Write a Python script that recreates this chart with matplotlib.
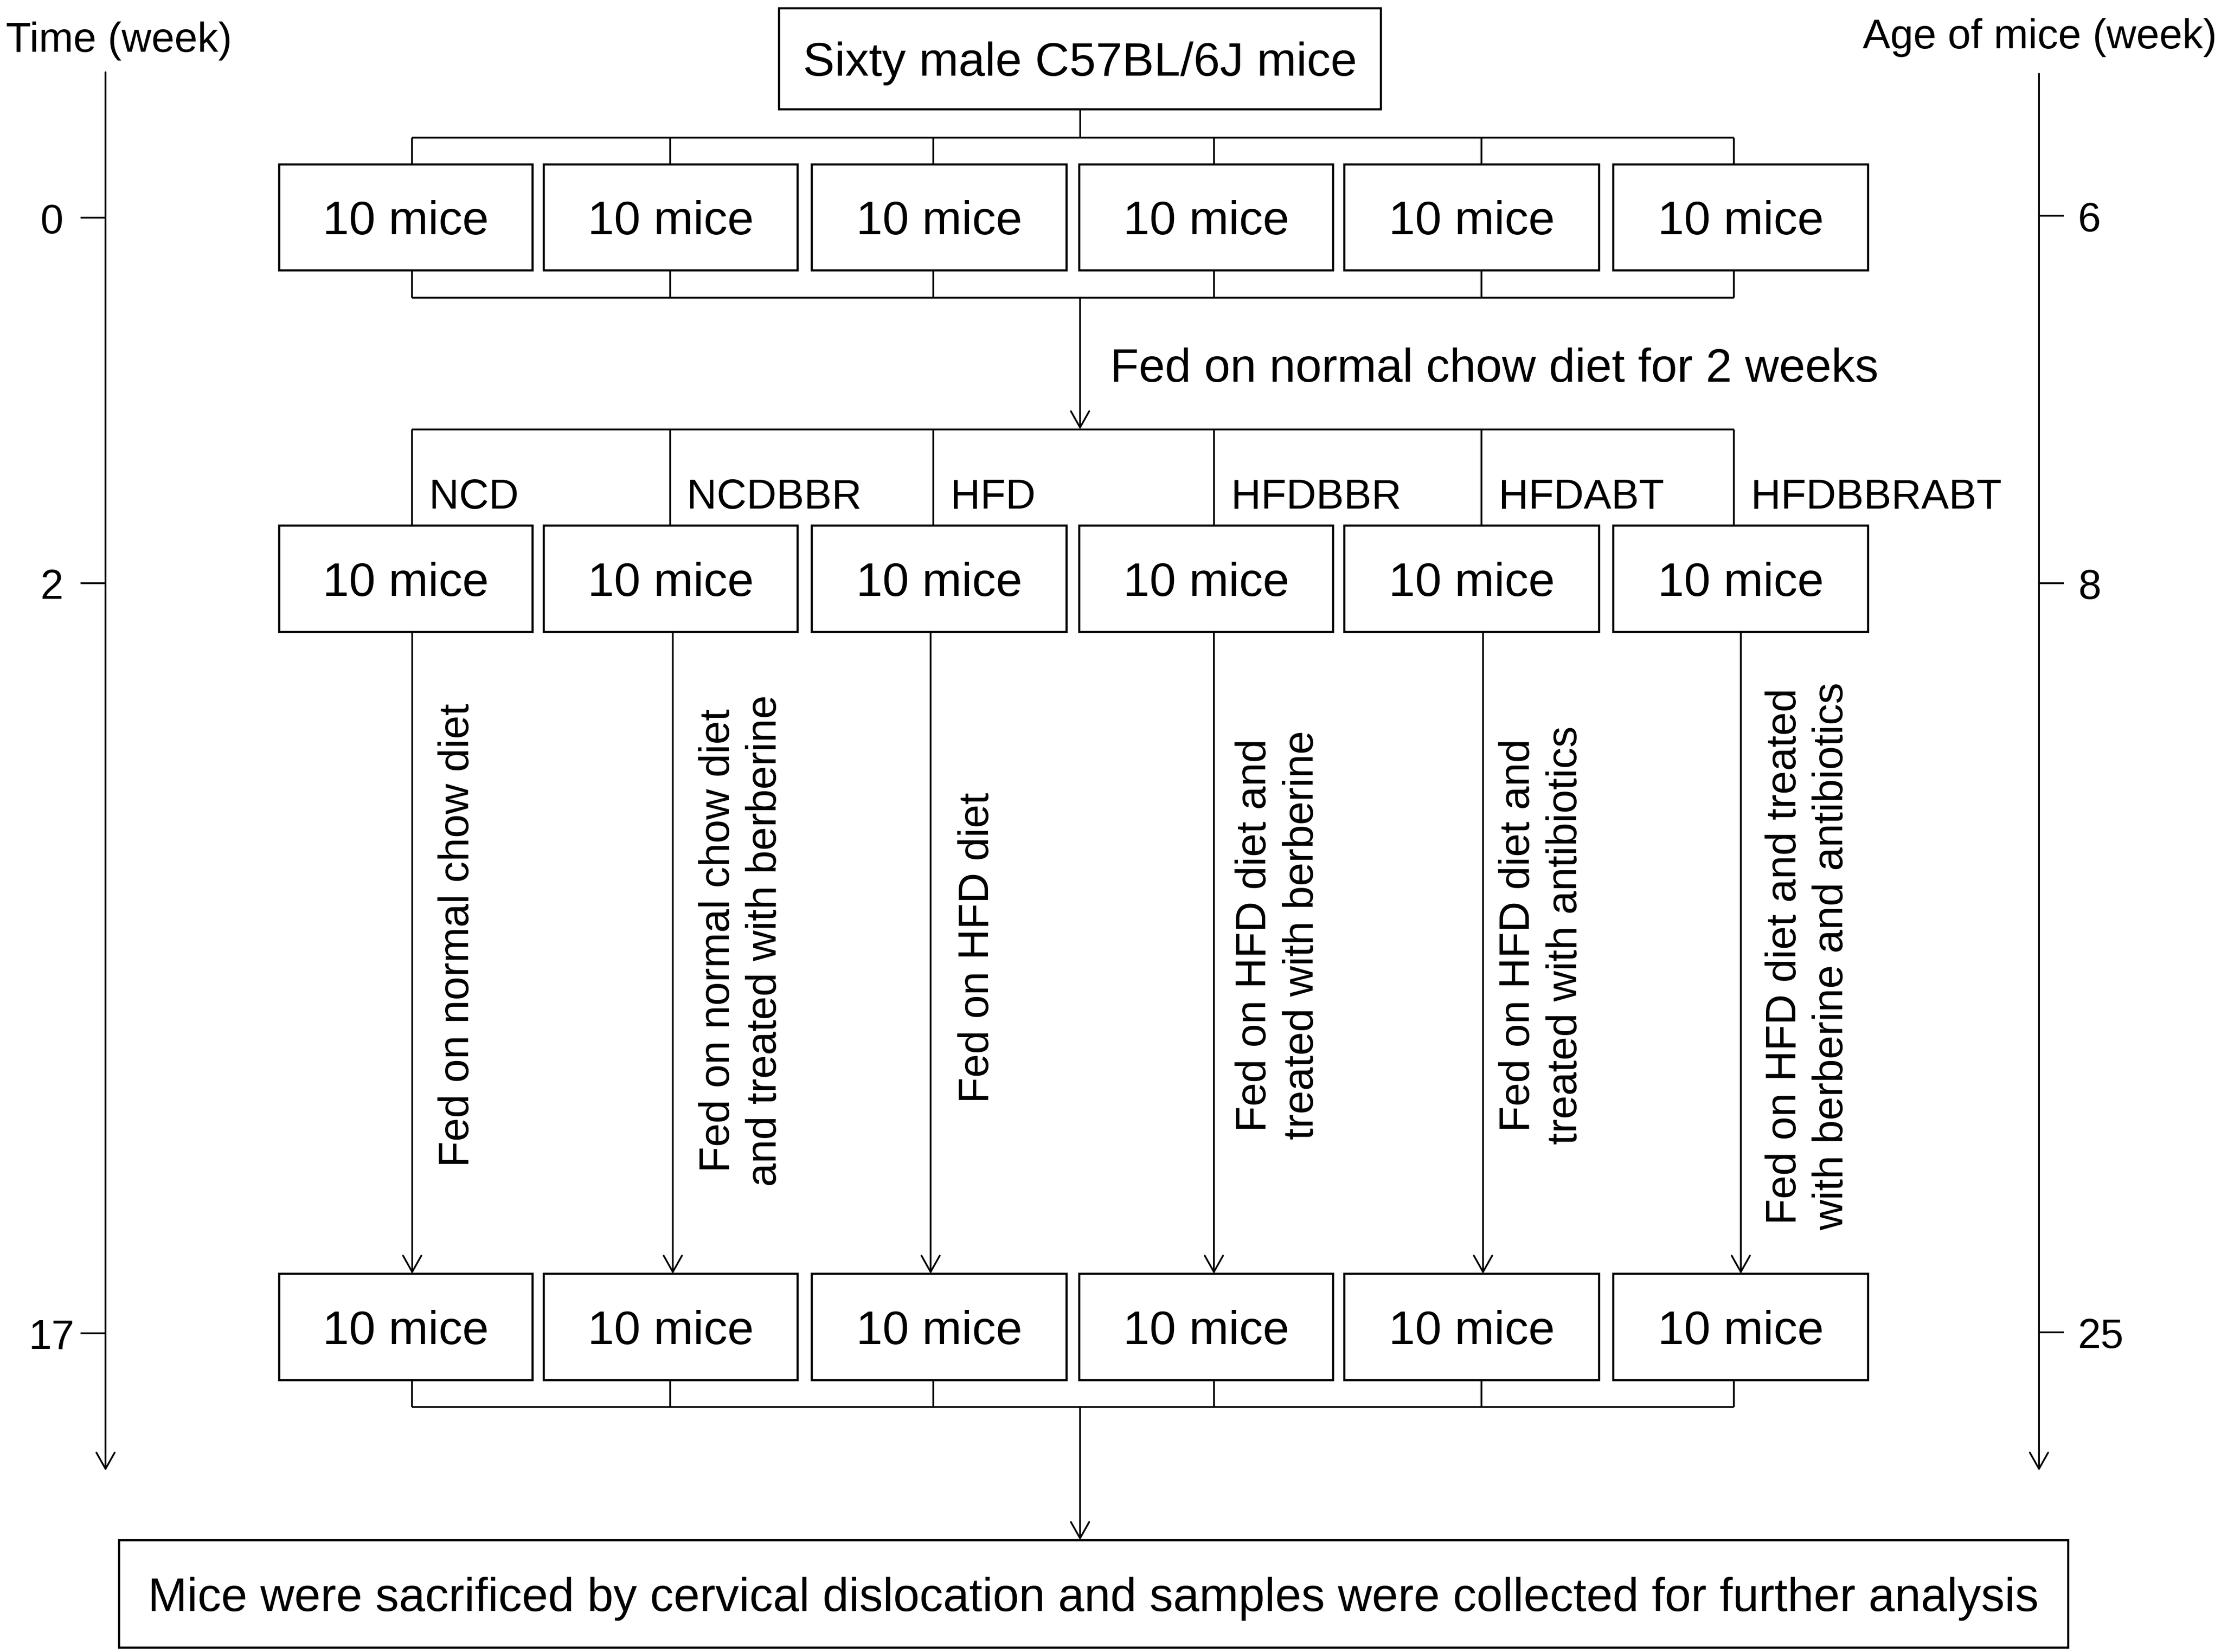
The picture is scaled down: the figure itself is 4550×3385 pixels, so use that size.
import matplotlib
matplotlib.use("Agg")
import matplotlib.pyplot as plt
from matplotlib.patches import Rectangle, FancyArrowPatch

plt.rcParams['font.family'] = ['Liberation Sans', 'DejaVu Sans']

# ---------------- data ----------------
title_text = "Sixty male C57BL/6J mice"
group_labels = ["NCD", "NCDBBR", "HFD", "HFDBBR", "HFDABT", "HFDBBRABT"]
mice_per_group = [10, 10, 10, 10, 10, 10]
treatments = [
    "Fed on normal chow diet",
    "Fed on normal chow diet\nand treated with berberine",
    "Fed on HFD diet",
    "Fed on HFD diet and\ntreated with berberine",
    "Fed on HFD diet and\ntreated with antibiotics",
    "Fed on HFD diet and treated\nwith berberine and antibiotics",
]
acclim_text = "Fed on normal chow diet for 2 weeks"
final_text = ("Mice were sacrificed by cervical dislocation and samples "
              "were collected for further analysis")
time_weeks = [0, 2, 17]
age_weeks = [6, 8, 25]
left_axis_title = "Time (week)"
right_axis_title = "Age of mice (week)"

# ---------------- layout (canvas units) ----------------
W, H = 1568, 1166
box_l = [197, 384, 573, 762, 949, 1139]
box_r = [376, 563, 753, 941, 1129, 1319]
branch_x = [291, 473, 659, 857, 1046, 1224]
arrow_x = [291, 475, 657, 857, 1047, 1229]
text_left = [309, 493, 676, 872, 1058, 1246]
text_yc = [660, 664, 669, 660, 660, 675]
row_top = [116, 371, 899]
row_bot = [191, 446, 974]
tick_y_left = [153.7, 411.5, 941]
tick_y_right = [152.4, 411.5, 940.5]
BOX_LW = 3.2
LINE_LW = 2.6
BIG = 70
MID = 61
ROT = 62.5

fig = plt.figure(figsize=(45.5, 33.85), dpi=100)
ax = fig.add_axes([0, 0, 1, 1])
ax.set_xlim(0, W)
ax.set_ylim(H, 0)
ax.axis("off")


def box(x0, y0, x1, y1):
    ax.add_patch(Rectangle((x0, y0), x1 - x0, y1 - y0, fill=False,
                           edgecolor="black", lw=BOX_LW, joinstyle="miter"))


def line(xs, ys, lw=LINE_LW):
    ax.plot(xs, ys, color="black", lw=lw, solid_capstyle="butt")


def arrow(x, y0, y1, lw=LINE_LW):
    ax.add_patch(FancyArrowPatch((x, y0), (x, y1),
                                 arrowstyle="->,head_length=24,head_width=13.5",
                                 mutation_scale=1, lw=lw, color="black",
                                 shrinkA=0, shrinkB=0))


# top box
box(550, 6, 975, 77)
ax.text(762.5, 53.5, title_text, fontsize=BIG, ha="center", va="baseline")
line([762.5, 762.5], [77, 97])

# first bracket
line([branch_x[0], branch_x[-1]], [97, 97])
for bx in branch_x:
    line([bx, bx], [97, row_top[0]])

# rows of boxes
for r in range(3):
    for i in range(6):
        box(box_l[i], row_top[r], box_r[i], row_bot[r])
        cx = (box_l[i] + box_r[i]) / 2
        cy = (row_top[r] + row_bot[r]) / 2
        ax.text(cx, cy + 12, f"{mice_per_group[i]} mice", fontsize=BIG,
                ha="center", va="baseline")

# bracket below row 1
for bx in branch_x:
    line([bx, bx], [row_bot[0], 210])
line([branch_x[0], branch_x[-1]], [210, 210])
arrow(762.5, 210, 303)
ax.text(783.5, 269.4, acclim_text, fontsize=69.4, ha="left", va="baseline")

# bracket above row 2 with group labels
line([branch_x[0], branch_x[-1]], [303, 303])
for i, bx in enumerate(branch_x):
    line([bx, bx], [303, row_top[1]])
    ax.text(bx + 12, 358.8, group_labels[i], fontsize=MID, ha="left",
            va="baseline")

# treatment arrows and texts
for i in range(6):
    arrow(arrow_x[i], row_bot[1], row_top[2])
    ax.text(text_left[i], text_yc[i], treatments[i], fontsize=ROT,
            rotation=90, ha="left", va="center", multialignment="center",
            linespacing=1.25)

# bracket below row 3
for bx in branch_x:
    line([bx, bx], [row_bot[2], 993])
line([branch_x[0], branch_x[-1]], [993, 993])
arrow(762.5, 993, 1087)

# final box
box(84, 1087, 1460, 1163)
ax.text(772, 1137, final_text, fontsize=69.4, ha="center", va="baseline")

# left timeline
arrow(74.5, 51, 1038)
ax.text(4, 36.6, left_axis_title, fontsize=61, ha="left", va="baseline")
for t, ty in zip(time_weeks, tick_y_left):
    line([57, 74.5], [ty, ty])
    ax.text(36.5, ty + 11, str(t), fontsize=MID, ha="center", va="baseline")

# right timeline
arrow(1439.5, 52, 1038)
ax.text(1565, 34.1, right_axis_title, fontsize=61, ha="right",
        va="baseline")
for a, ty in zip(age_weeks, tick_y_right):
    line([1439.5, 1457], [ty, ty])
    ax.text(1467, ty + 11, str(a), fontsize=MID, ha="left", va="baseline")

fig.savefig("out.png", dpi=100, facecolor="white")
